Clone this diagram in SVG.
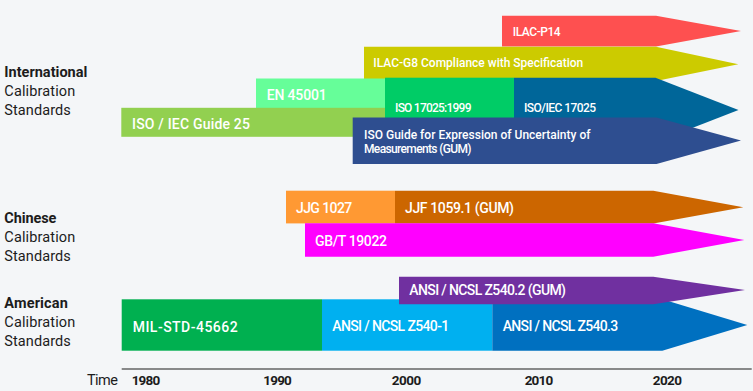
<svg xmlns="http://www.w3.org/2000/svg" width="753" height="391" viewBox="0 0 753 391">
<style>
.bg{fill:#f4f6f8}
.lbl{font-family:Roboto,"Liberation Sans",Arial,sans-serif;fill:#ffffff;font-weight:500}
.s{font-size:12px}
.m{font-size:14px}
.side{font-family:Roboto,"Liberation Sans",Arial,sans-serif;font-size:14.5px;fill:#1c1c1c}
.b{font-weight:700}
.yr{font-family:Roboto,"Liberation Sans",Arial,sans-serif;font-size:13.5px;font-weight:700;fill:#1c1c1c}
.axis{stroke:#1c1c1c;stroke-width:1.2;fill:none}
</style>
<rect class="bg" x="0" y="0" width="753" height="391"/>

<g id="labels">
  <text class="side b" x="4.3" y="76.7" textLength="83">International</text>
  <text class="side" x="4.3" y="95.7" textLength="71">Calibration</text>
  <text class="side" x="4.3" y="114.5" textLength="66.5">Standards</text>
  <text class="side b" x="4.3" y="222.7" textLength="52">Chinese</text>
  <text class="side" x="4.3" y="241.7" textLength="71">Calibration</text>
  <text class="side" x="4.3" y="260.7" textLength="66.5">Standards</text>
  <text class="side b" x="4.3" y="307.7" textLength="63.5">American</text>
  <text class="side" x="4.3" y="326.7" textLength="71">Calibration</text>
  <text class="side" x="4.3" y="345.7" textLength="66.5">Standards</text>
</g>

<g id="ilac-p14">
  <polygon fill="#fe5050" points="502,15.7 656,15.7 741,31 656,46.5 502,46.5"/>
  <text class="lbl s" x="512.7" y="36" textLength="48">ILAC-P14</text>
</g>
<g id="ilac-g8">
  <polygon fill="#cccb00" points="364,46.7 656,46.7 738.3,64.2 656,81 364,81"/>
  <text class="lbl s" x="373.3" y="66.7" textLength="210">ILAC-G8 Compliance with Specification</text>
</g>
<g id="en-45001">
  <rect fill="#66fe99" x="256" y="78.5" width="129" height="30"/>
  <text class="lbl m" x="266.7" y="100" textLength="60">EN 45001</text>
</g>
<g id="iso-iec-guide-25">
  <rect fill="#92d050" x="121.3" y="107.8" width="264" height="29"/>
  <text class="lbl m" x="132" y="128.7" textLength="118">ISO / IEC Guide 25</text>
</g>
<g id="iso-iec-17025">
  <polygon fill="#006699" points="514,77.7 655.5,77.7 738.5,110 655.5,142.3 514,142.3"/>
  <text class="lbl s" x="524" y="111.5" textLength="72">ISO/IEC 17025</text>
</g>
<g id="iso-17025-1999">
  <rect fill="#00cc66" x="385" y="77.7" width="129" height="64.6"/>
  <text class="lbl s" x="395" y="111.7" textLength="76.5">ISO 17025:1999</text>
</g>
<g id="gum">
  <polygon fill="#2e4e90" points="352.7,117.5 656.5,117.5 741,140.5 656.5,164 352.7,164"/>
  <text class="lbl s" x="364" y="138.6" textLength="226.5">ISO Guide for Expression of Uncertainty of</text>
  <text class="lbl s" x="364" y="152.6" textLength="107.5">Measurements (GUM)</text>
</g>

<g id="jjf-1059">
  <polygon fill="#cc6600" points="395,190.7 653.3,190.7 743.3,207.2 653.3,223.5 395,223.5"/>
  <text class="lbl m" x="405" y="212.7" textLength="109">JJF 1059.1 (GUM)</text>
</g>
<g id="jjg-1027">
  <rect fill="#ff9933" x="286" y="190.7" width="109" height="32.7"/>
  <text class="lbl m" x="296" y="213.3" textLength="56.3">JJG 1027</text>
</g>
<g id="gbt-19022">
  <polygon fill="#ff00ff" points="305,223.3 653.3,223.3 744.3,240 653.3,256.7 305,256.7"/>
  <text class="lbl m" x="315" y="246" textLength="72">GB/T 19022</text>
</g>

<g id="mil-std-45662">
  <rect fill="#00b050" x="121.7" y="299.3" width="200.3" height="51.4"/>
  <text class="lbl m" x="132.7" y="331.7" textLength="105">MIL-STD-45662</text>
</g>
<g id="z540-1">
  <rect fill="#00b0f0" x="322" y="299.3" width="170.3" height="51.4"/>
  <text class="lbl m" x="332.3" y="331.3" textLength="117">ANSI / NCSL Z540-1</text>
</g>
<g id="z540-3">
  <polygon fill="#0070c0" points="492.3,299.3 662.3,299.3 747.3,325 662.3,350.7 492.3,350.7"/>
  <text class="lbl m" x="502.7" y="331.3" textLength="115.6">ANSI / NCSL Z540.3</text>
</g>
<g id="z540-2">
  <polygon fill="#7030a0" points="399,276.7 653.3,276.7 745,290 653.3,304.3 399,304.3"/>
  <text class="lbl m" x="409.3" y="295" textLength="156.7">ANSI / NCSL Z540.2 (GUM)</text>
</g>

<g id="connectors">
  <line class="axis" x1="121.7" y1="369" x2="751.7" y2="369"/>
</g>
<g id="time-axis">
  <text class="side" x="87" y="384.5" textLength="31">Time</text>
  <text class="yr" x="131.7" y="384.5" textLength="28.5">1980</text>
  <text class="yr" x="263.3" y="384.5" textLength="28.5">1990</text>
  <text class="yr" x="391.7" y="384.5" textLength="29.5">2000</text>
  <text class="yr" x="524.7" y="384.5" textLength="28.5">2010</text>
  <text class="yr" x="652.7" y="384.5" textLength="29.3">2020</text>
</g>
</svg>
